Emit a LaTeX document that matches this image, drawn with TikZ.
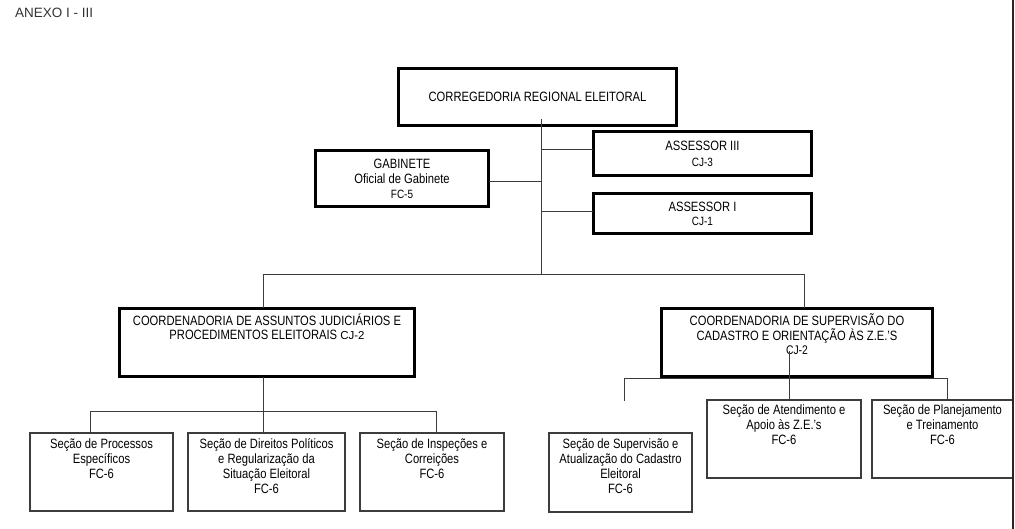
\documentclass[tikz,border=0pt]{standalone}
\usepackage{fontspec}
\setmainfont{Liberation Sans}[FakeStretch=0.83]
\newfontfamily\anexofont{Liberation Sans}
\usepackage{tikz}
\usepackage{xcolor}
\definecolor{lineGray}{RGB}{60,60,60}

\begin{document}
\begin{tikzpicture}[x=1pt, y=-1pt, line cap=rect,
  every node/.style={font=\fontsize{13.5}{15}\selectfont, align=center, inner sep=0pt},
  chefe/.style={draw=black, line width=2.6pt},
  secao/.style={draw=lineGray, line width=1.1pt},
  rotulo/.style={anchor=north, execute at begin node={\rule{0pt}{10pt}}},
  liga/.style={draw=lineGray, line width=1pt}]
\useasboundingbox (0,0) rectangle (1015,529);

% Title
\node[anchor=west, font=\anexofont\fontsize{13.5}{15}\selectfont, text=black!80] (anexo) at (15,13) {ANEXO I - III};

% Top level
\node[chefe, minimum width=278, minimum height=57] (cre) at (537.5,97) {CORREGEDORIA REGIONAL ELEITORAL};
\node[chefe, minimum width=218, minimum height=44] (ass3) at (702.5,153.5) {ASSESSOR III\\[1pt]{\fontsize{12}{15}\selectfont CJ-3}};
\node[chefe, minimum width=218, minimum height=40] (ass1) at (702.5,213.5) {ASSESSOR I\\[-1pt]{\fontsize{12}{15}\selectfont CJ-1}};
\node[chefe, minimum width=173, minimum height=56] (gab) at (402,178.5) {GABINETE\\Oficial de Gabinete\\{\fontsize{12}{15}\selectfont FC-5}};

% Coordenadorias
\node[chefe, minimum width=295, minimum height=68] (caj) at (267,342.5) {};
\node[rotulo] (cajt) at ([yshift=-6pt]caj.north) {COORDENADORIA DE ASSUNTOS JUDICIÁRIOS E\\[-1pt]PROCEDIMENTOS ELEITORAIS {\anexofont\fontsize{11.5}{15}\selectfont CJ-2}};
\node[chefe, minimum width=271, minimum height=68] (csc) at (797,342.5) {};
\node[rotulo] (csct) at ([yshift=-6pt]csc.north) {COORDENADORIA DE SUPERVISÃO DO\\CADASTRO E ORIENTAÇÃO ÀS Z.E.'S\\[-1pt]{\fontsize{12.5}{15}\selectfont CJ-2}};

% Secoes
\node[secao, minimum width=143, minimum height=78] (sec1) at (101.5,472) {};
\node[rotulo] (sec1t) at ([yshift=-6pt]sec1.north) {Seção de Processos\\Específicos\\FC-6};
\node[secao, minimum width=157, minimum height=78] (sec2) at (266.5,472) {};
\node[rotulo] (sec2t) at ([yshift=-6pt]sec2.north) {Seção de Direitos Políticos\\e Regularização da\\Situação Eleitoral\\FC-6};
\node[secao, minimum width=144, minimum height=78] (sec3) at (432,472) {};
\node[rotulo] (sec3t) at ([yshift=-6pt]sec3.north) {Seção de Inspeções e\\Correições\\FC-6};
\node[secao, minimum width=143, minimum height=79] (sec4) at (620.5,472.5) {};
\node[rotulo] (sec4t) at ([yshift=-6pt]sec4.north) {Seção de Supervisão e\\Atualização do Cadastro\\Eleitoral\\FC-6};
\node[secao, minimum width=154, minimum height=78] (sec5) at (784,439) {};
\node[rotulo] (sec5t) at ([yshift=-5pt]sec5.north) {Seção de Atendimento e\\Apoio às Z.E.'s\\FC-6};
\node[secao, minimum width=141, minimum height=78] (sec6) at (942.5,439) {};
\node[rotulo] (sec6t) at ([yshift=-5pt]sec6.north) {Seção de Planejamento\\e Treinamento\\FC-6};

% Junction points
\coordinate (t0) at (541,120);
\coordinate (t1) at (541,150);
\coordinate (t2) at (541,182);
\coordinate (t3) at (541,212);
\coordinate (t4) at (541,275);
\coordinate (bl) at (263,275);
\coordinate (br) at (804,275);
\coordinate (j1) at (90,411);
\coordinate (j2) at (263,411);
\coordinate (j3) at (436,411);
\coordinate (k1) at (624,378);
\coordinate (k1e) at (624,400);
\coordinate (k2) at (789,352);
\coordinate (k3) at (947,378);

% Connectors
\draw[liga] (t0) -- (t4);
\draw[liga] (t1) -- (t1 -| ass3.west);
\draw[liga] (t2) -- (t2 -| gab.east);
\draw[liga] (t3) -- (t3 -| ass1.west);
\draw[liga] (bl) -- (br);
\draw[liga] (bl) -- (bl |- caj.north);
\draw[liga] (br) -- (br |- csc.north);
\draw[liga] (j2 |- caj.south) -- (j2);
\draw[liga] (j1) -- (j3);
\draw[liga] (j1) -- (j1 |- sec1.north);
\draw[liga] (j2) -- (j2 |- sec2.north);
\draw[liga] (j3) -- (j3 |- sec3.north);
\draw[liga] (k1) -- (k3);
\draw[liga] (k1) -- (k1e);
\draw[liga] (k2) -- (k2 |- sec5.north);
\draw[liga] (k3) -- (k3 |- sec6.north);

% Page edge
\draw[black!85, line width=1.5pt] (1013,0) -- (1013,529);
\end{tikzpicture}
\end{document}
